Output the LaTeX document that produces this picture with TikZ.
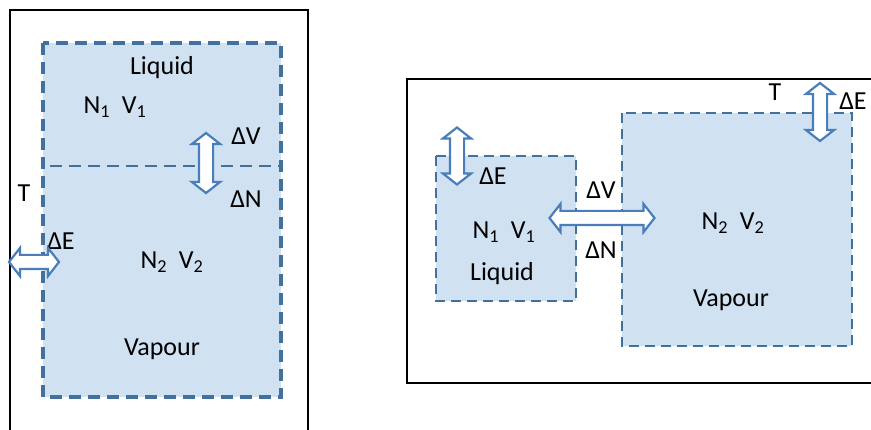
\documentclass[tikz,border=0pt]{standalone}
\usepackage{fontspec}
\setmainfont{Carlito}
\usetikzlibrary{shapes.arrows}
\definecolor{regfill}{RGB}{208,225,242}
\definecolor{regline}{RGB}{65,113,156}
\definecolor{arrline}{RGB}{74,126,187}
\tikzset{
  wall/.style={draw=black, line width=2.2pt},
  region/.style={fill=regfill, draw=regline, line width=3.4pt, dash pattern=on 12pt off 7pt},
  regionB/.style={fill=regfill, draw=regline, line width=2.4pt, dash pattern=on 10pt off 6pt},
  lbl/.style={font=\fontsize{26}{28}\selectfont, inner sep=0pt},
  darrow/.style={shape=double arrow, draw=arrline, fill=white, line width=2.2pt,
    inner xsep=0pt, inner ysep=6pt, double arrow head extend=7pt,
    double arrow tip angle=104, anchor=center}
}
\begin{document}
\begin{tikzpicture}[x=1pt,y=-1pt]
\useasboundingbox (0,0) rectangle (871,430);
\clip (0,0) rectangle (871,430);
% ---------- left panel ----------
\draw[wall] (10,440) -- (10,10) -- (308,10) -- (308,440);
\draw[region] (43,43) rectangle (281,397);
\draw[regline, line width=2.6pt, dash pattern=on 12pt off 7pt] (50,166) -- (281,166);
\node[lbl] (liqA) at (162,68) {Liquid};
\node[lbl] (nvA) at (115,107) {N\textsubscript{1}\ \ V\textsubscript{1}};
\node[lbl] (dvA) at (246,136) {ΔV};
\node[lbl] (dnA) at (246,199) {ΔN};
\node[lbl] (tA) at (24,193) {T};
\node[lbl] (deA) at (61,241) {ΔE};
\node[lbl] (nv2A) at (172,262) {N\textsubscript{2}\ \ V\textsubscript{2}};
\node[lbl] (vapA) at (162,349) {Vapour};
\node[darrow, minimum height=60pt, rotate=90] (arrA) at (206,163) {};
\node[darrow, minimum height=50pt] (arrEA) at (34,262) {};
% ---------- right panel ----------
\draw[wall] (880,79) -- (407,79) -- (407,383) -- (880,383);
\draw[regionB] (436,156) rectangle (576,301);
\draw[regionB] (622,113) rectangle (852,346);
\node[lbl] (tB) at (775,92) {T};
\node[lbl] (deB) at (853,101) {ΔE};
\node[lbl] (deB2) at (493,176) {ΔE};
\node[lbl] (dvB) at (601,190) {ΔV};
\node[lbl] (dnB) at (601,250) {ΔN};
\node[lbl] (nvB) at (504,232) {N\textsubscript{1}\ \ V\textsubscript{1}};
\node[lbl] (liqB) at (502,274) {Liquid};
\node[lbl] (nv2B) at (733,223) {N\textsubscript{2}\ \ V\textsubscript{2}};
\node[lbl] (vapB) at (731,300) {Vapour};
\node[darrow, minimum height=58pt, rotate=90] (arrEB) at (820,112) {};
\node[darrow, minimum height=57pt, rotate=90] (arrEB2) at (457,156) {};
\node[darrow, minimum height=105pt] (arrVB) at (602,218) {};
\end{tikzpicture}
\end{document}
